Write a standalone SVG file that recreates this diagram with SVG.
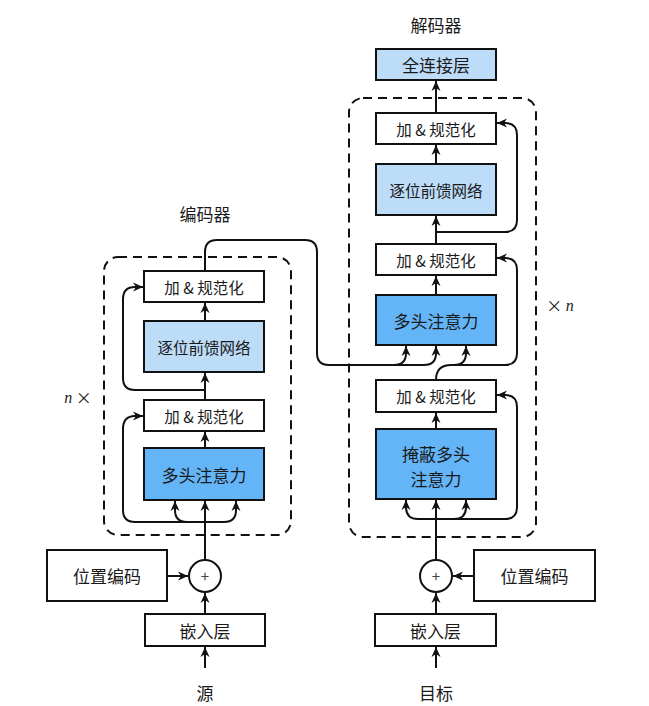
<svg xmlns="http://www.w3.org/2000/svg" width="649" height="706" viewBox="0 0 649 706">
<defs>
<marker id="ah" viewBox="0 0 10 10" refX="10" refY="5" markerWidth="10" markerHeight="10" markerUnits="userSpaceOnUse" orient="auto">
<path d="M0,0.5 L10,5 L0,9.5 L3,5 z" fill="#111"/>
</marker>
<style>
.box{stroke:#111;stroke-width:2;fill:#fff}
.dark{fill:#64b5f8}
.light{fill:#bddcf8}
.dash{fill:none;stroke:#111;stroke-width:2;stroke-dasharray:9 6}
.ln{fill:none;stroke:#111;stroke-width:2}
.ar{fill:none;stroke:#111;stroke-width:2;marker-end:url(#ah)}
text{font-family:"Noto Sans CJK SC","Noto Sans",sans-serif;fill:#1a1a1a;text-anchor:middle;dominant-baseline:central}
.s15{font-size:15.5px}
.s17{font-size:17px}
</style>
</defs>
<rect width="649" height="706" fill="#fff"/>

<text class="s17" x="205" y="213">编码器</text>
<text class="s17" x="436" y="24">解码器</text>
<text x="78" y="397" style="font-size:16px"><tspan font-family="Liberation Serif" font-style="italic">n</tspan> ×</text>
<text x="560" y="305" style="font-size:16px">× <tspan font-family="Liberation Serif" font-style="italic">n</tspan></text>

<g id="enc-block"><rect class="dash" x="104" y="257" width="187" height="278" rx="14"/></g>
<g id="dec-block"><rect class="dash" x="349" y="98" width="187" height="439" rx="14"/></g>

<g id="connectors">
<!-- encoder -->
<path class="ar" d="M205,668 V647"/>
<path class="ar" d="M205,614 V593"/>
<path class="ar" d="M167,576 H188"/>
<path class="ar" d="M205,560 V501"/>
<path class="ar" d="M205,522 H187 Q175,522 175,510 V501"/>
<path class="ar" d="M205,522 H224 Q236,522 236,510 V501"/>
<path class="ar" d="M187,522 H135 Q123,522 123,510 V429 Q123,416 135,416 H143"/>
<path class="ar" d="M205,448 V432"/>
<path class="ar" d="M205,400 V373"/>
<path class="ar" d="M205,390 H135 Q123,390 123,378 V299 Q123,287 135,287 H143"/>
<path class="ar" d="M205,321 V303"/>
<path class="ar" d="M205,271 V252 Q205,240 217,240 H305 Q317,240 317,252 V353 Q317,365 329,365 H424 Q436,365 436,353 V346"/>
<path class="ar" d="M394,365 Q406,365 406,353 V346"/>
<!-- decoder -->
<path class="ar" d="M436,668 V647"/>
<path class="ar" d="M436,614 V593"/>
<path class="ar" d="M474,576 H453"/>
<path class="ar" d="M436,560 V500"/>
<path class="ar" d="M436,519 H418 Q406,519 406,507 V500"/>
<path class="ar" d="M436,519 H454 Q466,519 466,507 V500"/>
<path class="ar" d="M454,519 H505 Q517,519 517,507 V407 Q517,395 505,395 H497"/>
<path class="ar" d="M436,429 V413"/>
<path class="ar" d="M436,380 Q436,365 451,365 H454 Q466,365 466,353 V346"/>
<path class="ar" d="M454,365 H505 Q517,365 517,353 V270 Q517,258 505,258 H497"/>
<path class="ar" d="M436,295 V276"/>
<path class="ar" d="M436,244 V216"/>
<path class="ar" d="M436,232 H505 Q517,232 517,220 V135 Q517,123 505,123 H497"/>
<path class="ar" d="M436,164 V145"/>
<path class="ar" d="M436,113 V81"/>
</g>

<!-- encoder nodes -->
<g id="enc-addnorm2"><rect class="box" x="144" y="271" width="120" height="31"/><text class="s15" x="204" y="286.5">加 &amp; 规范化</text></g>
<g id="enc-ffn"><rect class="box light" x="144" y="321" width="120" height="51"/><text class="s15" x="204" y="346.5">逐位前馈网络</text></g>
<g id="enc-addnorm1"><rect class="box" x="144" y="400" width="120" height="31"/><text class="s15" x="204" y="415.5">加 &amp; 规范化</text></g>
<g id="enc-mha"><rect class="box dark" x="144" y="448" width="120" height="52"/><text class="s17" x="204" y="474">多头注意力</text></g>
<g id="enc-pos"><rect class="box" x="47" y="550" width="120" height="51"/><text class="s17" x="107" y="575.5">位置编码</text></g>
<g id="enc-plus"><circle class="box" cx="205" cy="576" r="16"/><text x="205" y="575" style="font-size:15px;fill:#444">+</text></g>
<g id="enc-embed"><rect class="box" x="145" y="614" width="120" height="32"/><text class="s17" x="205" y="630">嵌入层</text></g>
<g id="src"><text class="s17" x="205" y="692">源</text></g>

<!-- decoder nodes -->
<g id="dec-fc"><rect class="box light" x="376" y="49" width="120" height="31"/><text class="s17" x="436" y="64.5">全连接层</text></g>
<g id="dec-addnorm3"><rect class="box" x="376" y="113" width="120" height="31"/><text class="s15" x="436" y="128.5">加 &amp; 规范化</text></g>
<g id="dec-ffn"><rect class="box light" x="376" y="164" width="120" height="51"/><text class="s15" x="436" y="189.5">逐位前馈网络</text></g>
<g id="dec-addnorm2"><rect class="box" x="376" y="244" width="120" height="31"/><text class="s15" x="436" y="259.5">加 &amp; 规范化</text></g>
<g id="dec-mha"><rect class="box dark" x="376" y="295" width="120" height="50"/><text class="s17" x="436" y="320">多头注意力</text></g>
<g id="dec-addnorm1"><rect class="box" x="376" y="380" width="120" height="32"/><text class="s15" x="436" y="396">加 &amp; 规范化</text></g>
<g id="dec-mmha"><rect class="box dark" x="376" y="429" width="120" height="70"/><text class="s17" x="436" y="453">掩蔽多头</text><text class="s17" x="436" y="478">注意力</text></g>
<g id="dec-plus"><circle class="box" cx="436" cy="576" r="16"/><text x="436" y="575" style="font-size:15px;fill:#444">+</text></g>
<g id="dec-pos"><rect class="box" x="474" y="550" width="121" height="51"/><text class="s17" x="534.5" y="575.5">位置编码</text></g>
<g id="dec-embed"><rect class="box" x="375" y="614" width="121" height="32"/><text class="s17" x="435.5" y="630">嵌入层</text></g>
<g id="tgt"><text class="s17" x="436" y="692">目标</text></g>
</svg>
